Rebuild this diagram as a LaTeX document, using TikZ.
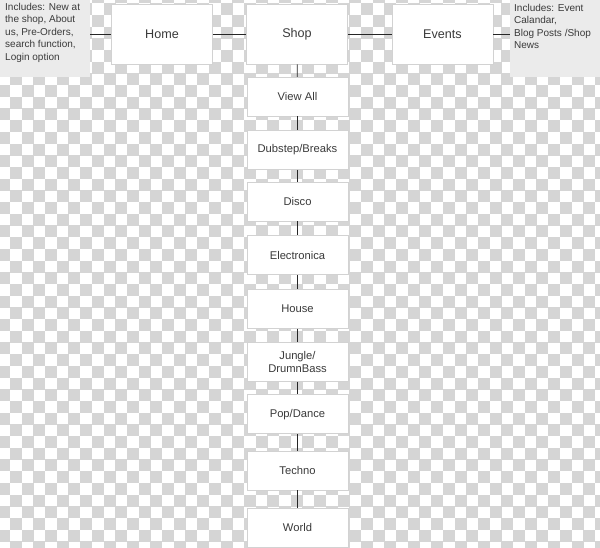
\documentclass[tikz,border=0pt]{standalone}
\usepackage{fontspec}
\setmainfont{Liberation Sans}
\definecolor{checkgrey}{HTML}{D5D5D5}
\definecolor{notegrey}{HTML}{EBEBEB}
\definecolor{boxline}{HTML}{D2D2D2}
\definecolor{inktext}{HTML}{3A3A3A}
\tikzset{
  page/.style={x=1pt,y=-1pt},
  topbox/.style={draw=boxline,fill=white,line width=0.6pt,minimum width=101pt,minimum height=60pt,
    inner sep=0pt,text=inktext,font=\fontsize{12.6}{14}\selectfont},
  genrebox/.style={draw=boxline,fill=white,line width=0.6pt,minimum width=101pt,minimum height=39pt,
    inner sep=0pt,align=center,text=inktext,font=\fontsize{11.2}{12.8}\selectfont},
  notebox/.style={fill=notegrey,minimum width=90pt,minimum height=77pt,inner sep=0pt},
  notetext/.style={anchor=north west,align=left,inner sep=0pt,text=inktext,font=\fontsize{10}{12.4}\selectfont},
  link/.style={draw=black!85,line width=0.8pt}
}
\begin{document}
\begin{tikzpicture}[page]
    \useasboundingbox (0,0) rectangle (600,548);
    % checker background
    \begin{scope}
    \clip (0,0) rectangle (600,548);
    \fill[white] (0,0) rectangle (600,548);
    \foreach \r in {0,...,47}{
      \foreach \k in {0,...,26}{
        \pgfmathsetmacro\cx{-1.6+(2*\k+mod(\r,2))*11.7}
        \pgfmathsetmacro\cy{-8.4+\r*11.7}
        \fill[checkgrey] (\cx-0.15,\cy-0.15) rectangle ++(12,12);
      }
    }
    \end{scope}
    % side notes
    \node[notebox] (homenote) at (45,38.5) {};
    \node[notetext] at (5,3) {Includes: New at\\the shop, About\\us, Pre-Orders,\\search function,\\Login option};
    \node[notebox] (eventnote) at (555,38.5) {};
    \node[notetext] at (514,4) {Includes: Event\\Calandar,\\Blog Posts /Shop\\News};
    % top row
    \node[topbox] (home) at (162,34) {Home};
    \node[topbox] (shop) at (297,34) {Shop};
    \node[topbox] (events) at (442.5,34) {Events};
    % shop column
    \node[genrebox] (viewall) at (297.5,96.6) {View All};
    \node[genrebox] (dubstep) at (297.5,150) {Dubstep/Breaks};
    \node[genrebox] (disco) at (297.5,201.5) {Disco};
    \node[genrebox] (electronica) at (297.5,255) {Electronica};
    \node[genrebox] (house) at (297.5,308.8) {House};
    \node[genrebox] (jungle) at (297.5,361.9) {Jungle/\\DrumnBass};
    \node[genrebox] (popdance) at (297.5,414.2) {Pop/Dance};
    \node[genrebox] (techno) at (297.5,470.3) {Techno};
    \node[genrebox] (world) at (297.5,527.5) {World};
    % connectors
    \draw[link] (homenote.east |- home.west) -- (home.west);
    \draw[link] (home) -- (shop);
    \draw[link] (shop) -- (events);
    \draw[link] (events.east) -- (eventnote.west |- events.east);
    \draw[link] (shop) -- (viewall);
    \draw[link] (viewall) -- (dubstep);
    \draw[link] (dubstep) -- (disco);
    \draw[link] (disco) -- (electronica);
    \draw[link] (electronica) -- (house);
    \draw[link] (house) -- (jungle);
    \draw[link] (jungle) -- (popdance);
    \draw[link] (popdance) -- (techno);
    \draw[link] (techno) -- (world);
\end{tikzpicture}
\end{document}
